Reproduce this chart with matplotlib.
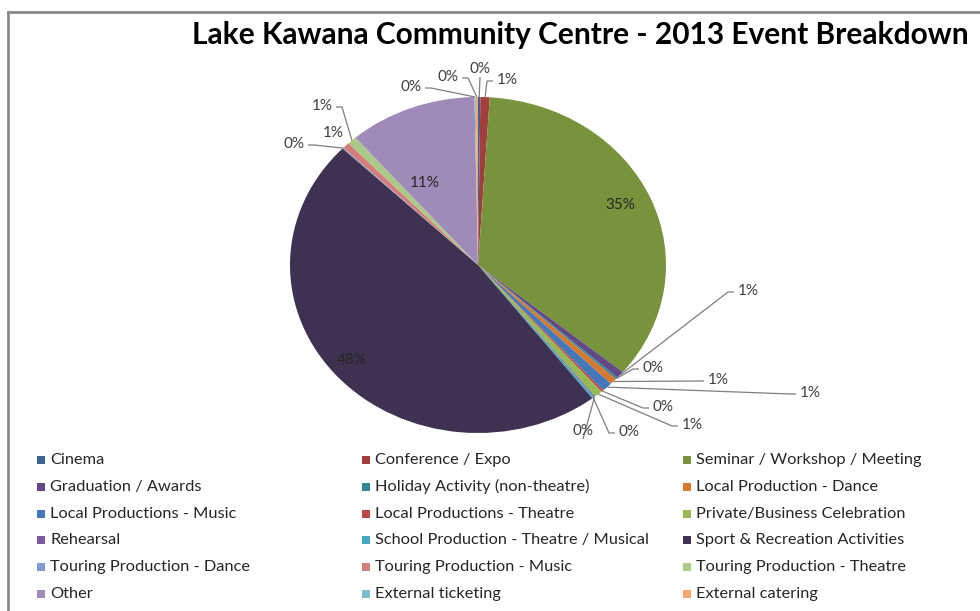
import numpy as np
import matplotlib
matplotlib.use("Agg")
import matplotlib.pyplot as plt
from matplotlib.lines import Line2D
from matplotlib.patches import Rectangle

plt.rcParams['font.family'] = ['Lato', 'DejaVu Sans']

# event categories, in the order Excel draws them (clockwise from 12 o'clock)
categories = [
    'Cinema', 'Conference / Expo', 'Seminar / Workshop / Meeting',
    'Graduation / Awards', 'Holiday Activity (non-theatre)', 'Local Production - Dance',
    'Local Productions - Music', 'Local Productions - Theatre', 'Private/Business Celebration',
    'Rehearsal', 'School Production - Theatre / Musical', 'Sport & Recreation Activities',
    'Touring Production - Dance', 'Touring Production - Music', 'Touring Production - Theatre',
    'Other', 'External ticketing', 'External catering',
]
# share of events (%)
shares = [0.2, 0.8, 35.0,
          0.7, 0.2, 0.6,
          0.9, 0.2, 0.7,
          0.1, 0.2, 47.6,
          0.1, 0.6, 0.8,
          11.0, 0.1, 0.2]
pct_labels = ['0%', '1%', '35%',
              '1%', '0%', '1%',
              '1%', '0%', '1%',
              '0%', '0%', '48%',
              '0%', '1%', '1%',
              '11%', '0%', '0%']

colors = ['#3B6396', '#A23F3C', '#77933C',
          '#634A86', '#31889B', '#D9772C',
          '#4578BA', '#BE4643', '#97B955',
          '#7C5AA2', '#47A8C4', '#3F3151',
          '#7C9ED0', '#D47D7A', '#ABC988',
          '#9F8ABA', '#7DBDD3', '#F7A470']

# pie geometry in pixels (Excel stretched the pie a little horizontally)
W, H = 980, 611
CX, CY, RX, RY = 478, 265, 188, 168


def px(x, y):
    return (x - CX) / RX, (CY - y) / RY


# label layout: text centre in pixels, and where the leader line attaches
# (L/R = left/right of the text, v = below it, n = no line, None = inside label)
label_pos = {
    0: (480, 69, 'v'), 1: (507, 80, 'L'), 2: (620, 205, None),
    3: (748, 291, 'L'), 4: (653, 368, 'L'), 5: (718, 380, 'L'),
    6: (810, 393, 'L'), 7: (663, 407, 'L'), 8: (692, 425, 'L'),
    9: (583, 431, 'v'), 10: (629, 432, 'L'), 11: (352, 360, None),
    12: (294, 144, 'R'), 13: (333, 133, 'n'), 14: (322, 106, 'R'),
    15: (425, 183, None), 16: (411, 87, 'R'), 17: (448, 77, 'R'),
}

fig = plt.figure(figsize=(W / 100, H / 100), dpi=100)
ax = fig.add_axes([0, 0, 1, 1])
wedges, _ = ax.pie(shares, colors=colors, startangle=90, counterclock=False,
                   wedgeprops=dict(linewidth=0))
ax.set_aspect('auto')
ax.set_xlim(px(0, 0)[0], px(W, 0)[0])
ax.set_ylim(px(0, H)[1], px(0, 0)[1])
ax.axis('off')

line_col = '#7f7f7f'
txt_col = '#404040'
for i, w in enumerate(wedges):
    lx, ly, side = label_pos[i]
    tx, ty = px(lx, ly)
    ax.text(tx, ty, pct_labels[i], ha='center', va='center', fontsize=11,
            color=txt_col if side else '#262626')
    if side is None or side == 'n':
        continue
    mid = np.deg2rad((w.theta1 + w.theta2) / 2)
    ax0, ay0 = np.cos(mid), np.sin(mid)
    half = 5.5 * len(pct_labels[i])
    if side == 'L':
        ex, ey = lx - half - 3, ly + 1
        pts = [(ax0, ay0), px(ex - 6, ey), px(ex, ey)]
    elif side == 'R':
        ex, ey = lx + half + 3, ly + 1
        pts = [(ax0, ay0), px(ex + 6, ey), px(ex, ey)]
    else:
        pts = [(ax0, ay0), px(lx, ly + 8)]
    xs, ys = zip(*pts)
    ax.plot(xs, ys, color=line_col, linewidth=0.9, solid_capstyle='butt')

# title
fig.text(580 / W, 1 - 35 / H, 'Lake Kawana Community Centre - 2013 Event Breakdown',
         ha='center', va='center', fontsize=21.5, fontweight='bold', color='black')

# legend: 3 columns, filled row by row
col_x = [37, 362, 683]
row_y0, row_dy = 460, 26.8
for i, (name, c) in enumerate(zip(categories, colors)):
    r, k = divmod(i, 3)
    x = col_x[k]
    y = row_y0 + r * row_dy
    fig.add_artist(Rectangle((x / W, 1 - (y + 4) / H), 8 / W, 8 / H,
                             transform=fig.transFigure, facecolor=c, edgecolor='none'))
    fig.text((x + 13) / W, 1 - y / H, name, ha='left', va='center',
             fontsize=11.8, color='#262626')

# chart frame edge (top and left) as in the cropped Excel screenshot
fig.add_artist(Line2D([8 / W, 1], [1 - 12 / H, 1 - 12 / H], transform=fig.transFigure,
                      color='#8a8a8a', linewidth=2))
fig.add_artist(Line2D([8 / W, 8 / W], [0, 1 - 12 / H], transform=fig.transFigure,
                      color='#8a8a8a', linewidth=2))

fig.savefig('out.png', dpi=100)
